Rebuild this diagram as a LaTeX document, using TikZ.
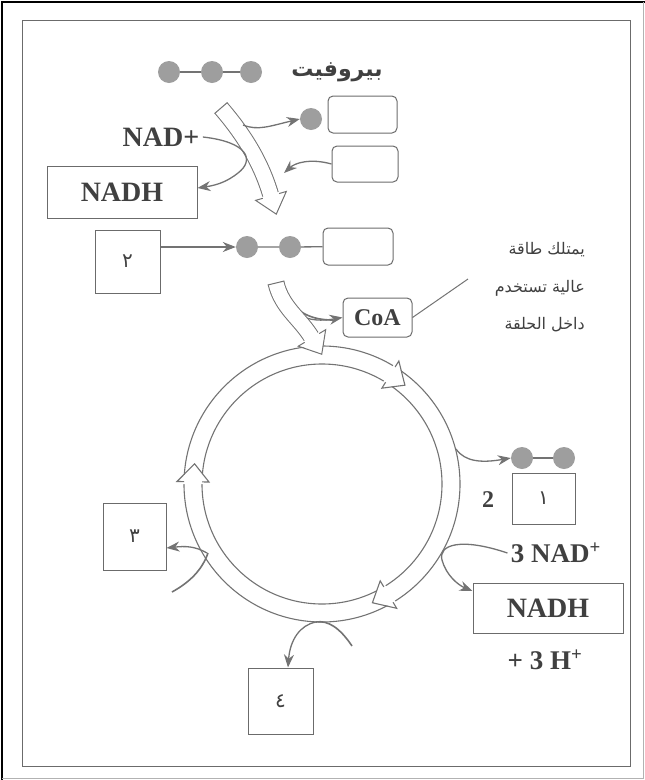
\documentclass[tikz,border=0pt]{standalone}
\usepackage{fontspec}
\setmainfont{Liberation Serif}
\newfontfamily\arabicfont[Script=Arabic]{DejaVu Sans}
\usetikzlibrary{arrows.meta,decorations.markings,calc}
\TeXXeTstate=1
\definecolor{lncol}{gray}{0.45}
\definecolor{boxcol}{gray}{0.42}
\definecolor{txtcol}{gray}{0.25}
\definecolor{circfill}{gray}{0.62}
\begin{document}
\begin{tikzpicture}[x=1pt,y=-1pt,
  box/.style={draw=boxcol,line width=1pt,inner sep=0pt,text=txtcol},
  rbox/.style={box,rounded corners=5pt},
  mol/.style={circle,fill=circfill,minimum size=22pt,inner sep=0pt},
  ln/.style={draw=lncol,line width=1.3pt},
  arr/.style={ln,-{Stealth[length=13pt,width=10pt]}},
  big/.style={font=\fontsize{28}{30}\selectfont\bfseries,text=txtcol},
  mid/.style={font=\fontsize{24}{26}\selectfont\bfseries,text=txtcol},
  dig/.style={font=\arabicfont\fontsize{20}{22}\selectfont,text=txtcol},
  artxt/.style={font=\arabicfont\fontsize{16}{18}\selectfont,text=txtcol,anchor=east,inner sep=0pt},
  band/.style={preaction={draw=lncol,line width=17pt},draw=white,line width=15pt,
    postaction={decorate},
    decoration={markings,
      mark=at position 0 with {\draw[lncol,line width=1pt] (0,-8.5)--(0,8.5);},
      mark=at position 0.999 with {\fill[white] (-1.5,-16)--(19,0)--(-1.5,16)--cycle;
         \draw[lncol,line width=1pt,line join=miter] (0,-8.5)--(0,-16)--(19,0)--(0,16)--(0,8.5);}}},
  ringline/.style={draw=lncol,line width=1.1pt}
]
\useasboundingbox (0,0) rectangle (645,780);
% frames
\draw[black,line width=2.5pt] (2,780) -- (2,2) -- (645,2);
\draw[gray!60,line width=0.8pt] (643,2) -- (643,778) -- (2,778);
\draw[boxcol,line width=1pt] (22,20) rectangle (630,766);

% pyruvate
\node[mol] (p1) at (169,72) {};
\node[mol] (p2) at (212,72) {};
\node[mol] (p3) at (251,72) {};
\draw[ln] (p1) -- (p2) (p2) -- (p3);
\node[font=\arabicfont\fontsize{22}{24}\selectfont\bfseries,text=txtcol] (pyr) at (337,72) {\beginR بيروفيت\endR};

% top boxes
\node[rbox,minimum width=69pt,minimum height=37pt] (bA) at (362.5,114.5) {};
\node[mol] (c0) at (311,119) {};
\node[rbox,minimum width=66pt,minimum height=36pt] (bB) at (365,164) {};

% NAD+ and NADH (left)
\node[big] (nad1) at (161,137) {NAD+};
\node[box,minimum width=150pt,minimum height=52pt,big] (nadhL) at (122,192) {NADH};

% band 1
\draw[band] (221,108) .. controls (246,137) and (262,165) .. (271,196);
\draw[arr] (243,125) .. controls (258,131) and (270,126) .. (c0.west);
\draw[arr] (bB.west) .. controls (310,158) and (295,163) .. (284,173);
\draw[arr] (nad1.east) .. controls (248,142) and (255,160) .. (238,173) .. controls (228,181) and (218,185) .. (nadhL.east|-0,188);

% box 2 and acetyl
\node[box,minimum width=65pt,minimum height=63pt,dig] (b2) at (127.5,261.5) {٢};
\node[mol] (a1) at (247,247) {};
\node[mol] (a2) at (290,247) {};
\node[rbox,minimum width=70pt,minimum height=37pt] (bAc) at (358,246.5) {};
\draw[arr] (b2.east|-0,247) -- (a1.west);
\draw[ln] (a1) -- (a2) (a2) -- (bAc);

% CoA
\node[rbox,minimum width=69pt,minimum height=39pt,mid] (coa) at (377.5,317.5) {CoA};
\coordinate (lblpt) at (468,279);
\draw[ln,line width=1pt] (coa.east) -- (lblpt);
\node[artxt] (t1) at (585,250) {\beginR يمتلك طاقة\endR};
\node[artxt] (t2) at (585,288) {\beginR عالية تستخدم\endR};
\node[artxt] (t3) at (585,325) {\beginR داخل الحلقة\endR};

% ring
\begin{scope}[shift={(322,484)}]
  \draw[ringline] (0,0) circle[radius=138];
  \draw[ringline] (0,0) circle[radius=120];
  \foreach \a in {302,59,181}{
    \fill[white] ({\a-1}:112) -- ({\a-1}:146) -- ({\a+8}:129) -- cycle;
    \draw[ringline,line join=miter] (\a:120) -- (\a:113) -- ({\a+8}:129) -- (\a:145) -- (\a:138);
  }
\end{scope}

% band 2
\draw[ln,line width=1.6pt] (289,300) .. controls (300,315) and (315,320) .. (333,320);
\draw[arr] (296,314) .. controls (310,321) and (322,321) .. (coa.west);
\draw[band] (276,283) .. controls (282,308) and (300,318) .. (312,338);

% right side
\node[mol] (r1) at (522,458) {};
\node[mol] (r2) at (564,458) {};
\draw[ln] (r1) -- (r2);
\draw[arr] (456,449) .. controls (465,462) and (482,463) .. (r1.west);
\node[box,minimum width=63pt,minimum height=51pt,dig] (b1) at (543.5,498.5) {١};
\node[mid] (two) at (488,500) {2};
\node[big,font=\fontsize{27}{29}\selectfont\bfseries] (nad3) at (556,553) {3 NAD\textsuperscript{+}};
\node[box,minimum width=150pt,minimum height=50pt,big] (nadhR) at (548,608) {NADH};
\node[big,font=\fontsize{27}{29}\selectfont\bfseries] (h3) at (545,660) {+ 3 H\textsuperscript{+}};
\draw[arr] (nad3.west) .. controls (460,537) and (438,545) .. (442,560) .. controls (446,575) and (458,585) .. (nadhR.west|-0,591);

% left
\node[box,minimum width=63pt,minimum height=67pt,dig] (b3) at (134.5,536.5) {٣};
\draw[ln,line width=1.6pt] (172,592) .. controls (190,582) and (202,570) .. (208,553);
\draw[arr] (207,553) .. controls (195,546) and (185,546) .. (b3.east|-0,548);

% bottom
\node[box,minimum width=65pt,minimum height=66pt,dig] (b4) at (280.5,701) {٤};
\draw[ln,line width=1.6pt] (352,646) .. controls (340,628) and (328,620) .. (316,622);
\draw[arr] (316,622) .. controls (300,625) and (290,640) .. (b4.north-|288,0);
\end{tikzpicture}
\end{document}
